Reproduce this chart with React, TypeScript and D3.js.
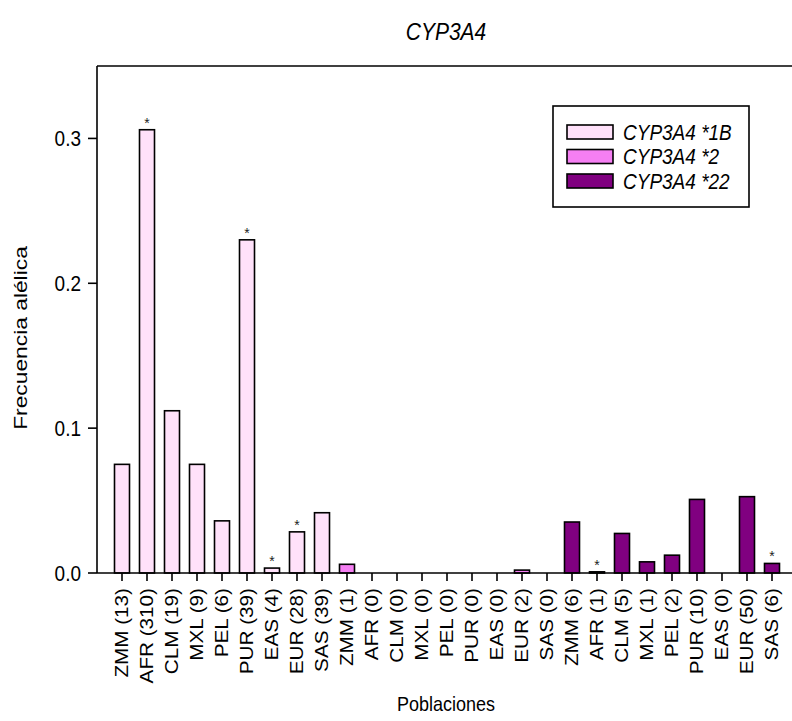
import React from "react";
import * as d3 from "d3";

const populations = ["ZMM", "AFR", "CLM", "MXL", "PEL", "PUR", "EAS", "EUR", "SAS"];
const counts1B = [13, 310, 19, 9, 6, 39, 4, 28, 39];
const counts2 = [1, 0, 0, 0, 0, 0, 0, 2, 0];
const counts22 = [6, 1, 5, 1, 2, 10, 0, 50, 6];

const freq1B = [0.075, 0.306, 0.112, 0.075, 0.036, 0.23, 0.0034, 0.0284, 0.0416];
const freq2 = [0.006, 0, 0, 0, 0, 0, 0, 0.002, 0];
const freq22 = [0.0352, 0.0008, 0.0273, 0.0077, 0.0123, 0.0508, 0, 0.0527, 0.0066];

const star1B = [false, true, false, false, false, true, true, true, false];
const star2 = [false, false, false, false, false, false, false, false, false];
const star22 = [false, true, false, false, false, false, false, false, true];

const seriesNames = ["CYP3A4 *1B", "CYP3A4 *2", "CYP3A4 *22"];
const seriesColors = ["#FFE1FA", "#F57FF3", "#800080"];
const yTicks = [0, 0.1, 0.2, 0.3];

const FONT = "Arial, 'Liberation Sans', sans-serif";

export default function App() {
  const W = 792;
  const H = 721;
  const left = 97;
  const right = 797;
  const top = 66;
  const bottom = 573;

  const groups = [
    { counts: counts1B, values: freq1B, stars: star1B },
    { counts: counts2, values: freq2, stars: star2 },
    { counts: counts22, values: freq22, stars: star22 },
  ];

  const items = groups.flatMap((g, gi) =>
    populations.map((p, i) => ({
      key: `${gi}-${i}`,
      label: `${p} (${g.counts[i]})`,
      value: g.values[i],
      star: g.stars[i],
      series: gi,
    }))
  );

  const x = d3
    .scalePoint<string>()
    .domain(items.map((d) => d.key))
    .range([left, right])
    .padding(1);
  const y = d3.scaleLinear().domain([0, 0.35]).range([bottom, top]);
  const barW = 15;
  const vs = 1.15; // vertical stretch of the original picture

  return (
    <svg width={W} height={H} style={{ display: "block", position: "absolute", left: 0, top: 0 }}>
      <rect x={0} y={0} width={W} height={H} fill="#fff" />
      <text
        transform={`translate(446,40) scale(1,${vs})`}
        textAnchor="middle"
        fontFamily={FONT}
        fontStyle="italic"
        fontSize={21}
      >
        CYP3A4
      </text>

      {/* bars */}
      {items
        .filter((d) => d.value > 0)
        .map((d) => (
          <rect
            key={d.key}
            x={(x(d.key) as number) - barW / 2}
            y={y(d.value)}
            width={barW}
            height={bottom - y(d.value)}
            fill={seriesColors[d.series]}
            stroke="#000"
            strokeWidth={1.6}
          />
        ))}
      {items
        .filter((d) => d.star)
        .map((d) => (
          <text
            key={"s" + d.key}
            x={x(d.key) as number}
            y={y(d.value) - 2}
            textAnchor="middle"
            fontFamily={FONT}
            fontSize={14}
            fill="#222"
          >
            *
          </text>
        ))}

      {/* frame */}
      <line x1={left} x2={right} y1={top} y2={top} stroke="#000" strokeWidth={1.6} />
      <line x1={left} x2={left} y1={top} y2={bottom} stroke="#000" strokeWidth={1.6} />
      <line x1={left} x2={right} y1={bottom} y2={bottom} stroke="#000" strokeWidth={1.6} />

      {/* y ticks */}
      {yTicks.map((t) => (
        <g key={t}>
          <line x1={left - 9} x2={left} y1={y(t)} y2={y(t)} stroke="#000" strokeWidth={1.6} />
          <text
            transform={`translate(${left - 16},${y(t)}) scale(1,${vs})`}
            dy="0.36em"
            textAnchor="end"
            fontFamily={FONT}
            fontSize={19}
          >
            {d3.format(".1f")(t)}
          </text>
        </g>
      ))}

      {/* x ticks */}
      {items.map((d) => (
        <g key={"t" + d.key} transform={`translate(${x(d.key)},${bottom})`}>
          <line y1={0} y2={8} stroke="#000" strokeWidth={1.6} />
          <text
            transform="translate(0,15) rotate(-90) scale(1.15,1)"
            dy="0.36em"
            textAnchor="end"
            fontFamily={FONT}
            fontSize={18}
          >
            {d.label}
          </text>
        </g>
      ))}

      {/* axis titles */}
      <text
        transform={`translate(27,338) rotate(-90) scale(1.2,1)`}
        textAnchor="middle"
        fontFamily={FONT}
        fontSize={19}
      >
        Frecuencia alélica
      </text>
      <text
        transform={`translate(446,711) scale(1,${vs})`}
        textAnchor="middle"
        fontFamily={FONT}
        fontSize={18}
      >
        Poblaciones
      </text>

      {/* legend */}
      <rect x={553} y={106} width={196} height={101} fill="#fff" stroke="#000" strokeWidth={1.6} />
      {seriesNames.map((n, i) => (
        <g key={n} transform={`translate(567,${132 + i * 24.5})`}>
          <rect x={0} y={-7} width={46} height={14} fill={seriesColors[i]} stroke="#000" strokeWidth={1.6} />
          <text
            transform={`translate(56,0) scale(1,${vs})`}
            dy="0.36em"
            fontFamily={FONT}
            fontStyle="italic"
            fontSize={19}
          >
            {n}
          </text>
        </g>
      ))}
    </svg>
  );
}
